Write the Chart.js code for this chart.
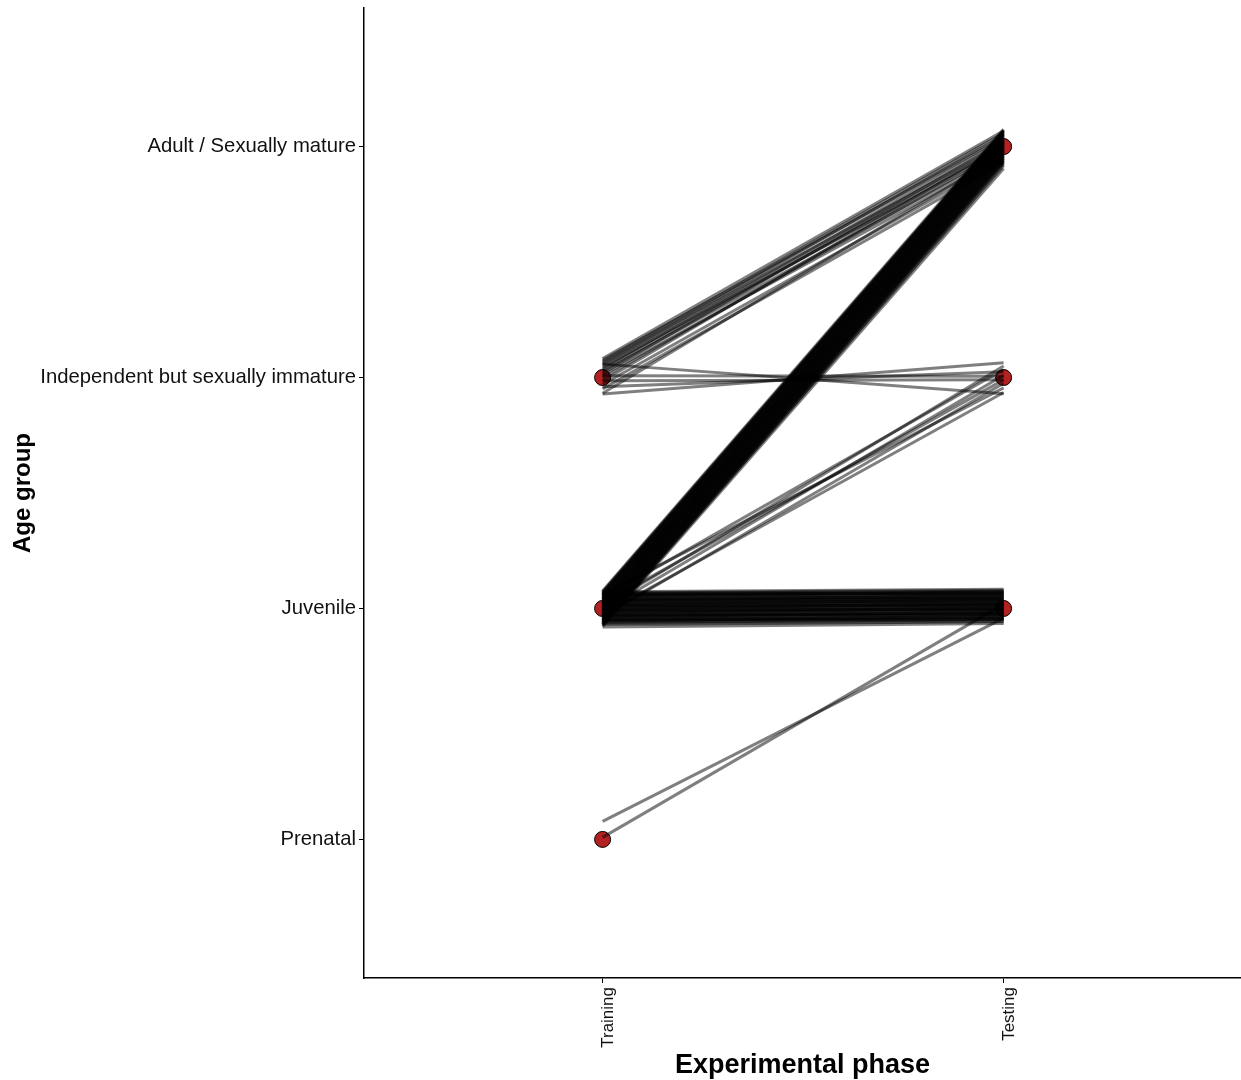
<!DOCTYPE html>
<html>
<head>
<meta charset="utf-8">
<script src="https://cdn.jsdelivr.net/npm/chart.js@4.4.1/dist/chart.umd.min.js"></script>
<style>
  body { margin: 0; background: #fff; }
  canvas { display: block; }
</style>
</head>
<body>
<canvas id="myChart" width="1241" height="1080"></canvas>
<script>
// categories
const phases = ['Training', 'Testing'];
const ageGroups = ['Prenatal', 'Juvenile', 'Independent but sexually immature', 'Adult / Sexually mature'];

// group means shown as red dots (phase index, age index)
const dotPhase = [1, 1, 1, 2, 2, 2];
const dotAge = [3, 2, 1, 4, 3, 2];

// jittered age per subject, training -> testing
const juvToAdultTrain = [
  2.076, 2.069, 2.071, 2.062, 2.065, 2.055, 2.058, 2.049,
  2.052, 2.041, 2.044, 2.036, 2.038, 2.029, 2.031, 2.022,
  2.025, 2.017, 2.019, 2.010, 2.012, 2.004, 2.006, 1.998,
  2.000, 1.991, 1.994, 1.985, 1.987, 1.978, 1.981, 1.972,
  1.974, 1.966, 1.968, 1.959, 1.962, 1.953, 1.955, 1.947,
  1.949, 1.940, 1.943, 1.934, 1.936, 1.928, 1.930, 1.922
];
const juvToAdultTest = [
  4.075, 4.070, 4.066, 4.068, 4.059, 4.062, 4.054, 4.050,
  4.052, 4.043, 4.046, 4.038, 4.034, 4.036, 4.028, 4.024,
  4.027, 4.019, 4.015, 4.017, 4.009, 4.005, 4.008, 4.000,
  3.996, 3.998, 3.990, 3.986, 3.988, 3.980, 3.976, 3.979,
  3.970, 3.967, 3.969, 3.960, 3.956, 3.959, 3.950, 3.946,
  3.949, 3.940, 3.936, 3.938, 3.930, 3.925, 3.918, 3.905
];

const juvToJuvTrain = [
  2.072, 2.066, 2.068, 2.060, 2.063, 2.054, 2.057, 2.048,
  2.051, 2.042, 2.045, 2.036, 2.039, 2.030, 2.033, 2.024,
  2.027, 2.018, 2.021, 2.012, 2.015, 2.006, 2.009, 2.000,
  2.003, 1.994, 1.997, 1.988, 1.991, 1.982, 1.985, 1.976,
  1.979, 1.970, 1.973, 1.964, 1.967, 1.958, 1.961, 1.952,
  1.955, 1.946, 1.949, 1.940, 1.943, 1.934, 1.931, 1.920,
  2.061, 2.035, 2.013, 1.993, 1.971, 1.950
];
const juvToJuvTest = [
  2.083, 2.075, 2.079, 2.070, 2.066, 2.072, 2.061, 2.058,
  2.063, 2.052, 2.049, 2.055, 2.044, 2.040, 2.046, 2.035,
  2.031, 2.038, 2.027, 2.023, 2.029, 2.018, 2.014, 2.020,
  2.009, 2.005, 2.011, 2.000, 1.996, 2.002, 1.991, 1.987,
  1.993, 1.982, 1.978, 1.984, 1.973, 1.969, 1.975, 1.964,
  1.960, 1.966, 1.955, 1.951, 1.957, 1.946, 1.942, 1.935,
  2.067, 2.041, 2.016, 1.998, 1.977, 1.953
];

const indToAdultTrain = [3.082, 3.074, 3.068, 3.061, 3.055, 3.047, 3.040, 3.033, 3.026, 3.018, 3.010, 2.998, 2.985, 2.970, 2.951, 2.932];
const indToAdultTest = [4.068, 4.040, 4.059, 4.012, 4.049, 3.990, 4.031, 4.003, 3.972, 4.022, 3.958, 3.985, 4.006, 3.945, 3.930, 3.968];

const indToIndTrain = [3.058, 3.008, 2.929, 2.986, 2.960];
const indToIndTest = [2.930, 3.005, 3.064, 2.990, 3.025];

const juvToIndTrain = [2.045, 2.020, 1.990, 2.060, 1.965, 2.005, 1.975];
const juvToIndTest = [3.035, 2.990, 3.010, 2.955, 2.975, 3.050, 2.935];

const preToJuvTrain = [1.078, 1.009];
const preToJuvTest = [1.958, 2.019];

const pairs = [
  [juvToAdultTrain, juvToAdultTest],
  [juvToJuvTrain, juvToJuvTest],
  [indToAdultTrain, indToAdultTest],
  [indToIndTrain, indToIndTest],
  [juvToIndTrain, juvToIndTest],
  [preToJuvTrain, preToJuvTest]
];

const datasets = [];
pairs.forEach(function(p) {
  p[0].forEach(function(v, i) {
    datasets.push({
      data: [{ x: 1, y: v }, { x: 2, y: p[1][i] }],
      showLine: true,
      borderColor: 'rgba(0,0,0,0.5)',
      borderWidth: 3,
      borderCapStyle: 'butt',
      pointRadius: 0,
      order: 0
    });
  });
});

datasets.push({
  data: dotPhase.map((ph, i) => ({ x: ph, y: dotAge[i] })),
  showLine: false,
  pointRadius: 8,
  pointBackgroundColor: '#b22222',
  pointBorderColor: '#000',
  pointBorderWidth: 1,
  order: 1
});

const font = "'Liberation Sans', Arial, Helvetica, sans-serif";

const ctx = document.getElementById('myChart').getContext('2d');

const config = {
  type: 'scatter',
  data: { datasets: datasets },
  plugins: [{
    id: 'whiteBg',
    beforeDraw: function(chart) {
      const c = chart.ctx;
      c.save();
      c.fillStyle = '#fff';
      c.fillRect(0, 0, chart.width, chart.height);
      c.restore();
    }
  }],
  options: {
    responsive: false,
    animation: false,
    layout: { autoPadding: false, padding: { top: 8, right: 0, bottom: 0, left: 0 } },
    plugins: {
      legend: { display: false },
      tooltip: { enabled: false }
    },
    scales: {
      x: {
        type: 'linear',
        min: 0.405,
        max: 2.592,
        afterBuildTicks: function(scale) {
          scale.ticks = phases.map((p, i) => ({ value: i + 1 }));
        },
        afterFit: function(scale) {
          scale.height = 102;
          scale.paddingLeft = 0;
          scale.paddingRight = 0;
        },
        ticks: {
          minRotation: 90,
          maxRotation: 90,
          padding: 4,
          labelOffset: 6,
          color: '#111',
          font: { family: font, size: 17 },
          callback: function(value) { return phases[value - 1]; }
        },
        grid: { drawOnChartArea: false, drawTicks: true, tickLength: 5, color: '#000', lineWidth: 1 },
        border: { display: true, color: '#000', width: 1.5 },
        title: {
          display: true,
          text: 'Experimental phase',
          color: '#000',
          font: { family: font, size: 27, weight: 'bold', lineHeight: 1.1 },
          padding: { top: 0, bottom: 0 }
        }
      },
      y: {
        type: 'linear',
        min: 0.4,
        max: 4.6,
        afterBuildTicks: function(scale) {
          scale.ticks = ageGroups.map((a, i) => ({ value: i + 1 }));
        },
        afterFit: function(scale) {
          scale.width = 364;
          scale.paddingTop = 0;
          scale.paddingBottom = 0;
        },
        ticks: {
          padding: 3,
          color: '#111',
          font: { family: font, size: 20.3 },
          callback: function(value) { return ageGroups[value - 1]; }
        },
        grid: { drawOnChartArea: false, drawTicks: true, tickLength: 5, color: '#000', lineWidth: 1 },
        border: { display: true, color: '#000', width: 1.5 },
        title: {
          display: true,
          text: 'Age group',
          color: '#000',
          font: { family: font, size: 24, weight: 'bold' },
          padding: { top: 9, bottom: 0 }
        }
      }
    }
  }
};

const myChart = new Chart(ctx, config);
</script>
</body>
</html>
